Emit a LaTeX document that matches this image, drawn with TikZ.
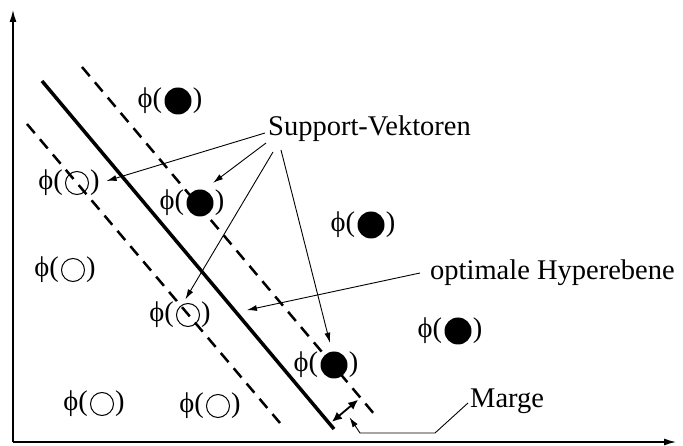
\documentclass[tikz,border=0pt]{standalone}
\usepackage{fontspec}
\setmainfont{Liberation Serif}
\usetikzlibrary{calc, arrows.meta, positioning}

\newcommand{\phipunkt}[3]{%
    \node[#2] (#1) at (#3) {};
    \node[left=2pt of #1, inner sep=0pt] (#1-l) {ϕ(};
    \node[right=1pt of #1, inner sep=0pt] (#1-r) {)};
}

\begin{document}
\begin{tikzpicture}[x=1pt, y=-1pt, font=\fontsize{28.5}{34}\selectfont,
    voll/.style={circle, fill, inner sep=0pt, minimum size=27pt},
    leer/.style={circle, draw, line width=1pt, inner sep=0pt, minimum size=23pt},
    pfeil/.style={-{Latex[length=10pt, width=6pt]}, line width=0.9pt},
    rand/.style={line width=2.5pt, dash pattern=on 12pt off 8pt}]
    \useasboundingbox (0,0) rectangle (683,446);
    \coordinate (O) at (13,442);
    \draw[line width=1.3pt, -{Latex[length=12pt, width=7pt]}] (O) -- (13,10);
    \draw[line width=1.3pt, -{Latex[length=12pt, width=7pt]}] (O) -- (676,442);
    \coordinate (ha) at (42,81);
    \coordinate (hb) at (334,429);
    \coordinate (da) at (82,67);
    \coordinate (db) at (375,415);
    \coordinate (la) at (27,124);
    \coordinate (lb) at (280,423);
    \draw[rand] (da) -- (db);
    \draw[rand] (la) -- (lb);
    \draw[line width=3.5pt] (ha) -- (hb);
    \phipunkt{b1}{voll}{178,101}
    \phipunkt{w1}{leer}{77,183}
    \phipunkt{b2}{voll}{200,203}
    \phipunkt{b3}{voll}{371,225}
    \phipunkt{w2}{leer}{73,270}
    \phipunkt{w3}{leer}{188,315}
    \phipunkt{b4}{voll}{458,331}
    \phipunkt{b5}{voll}{334,365}
    \phipunkt{w4}{leer}{102,404}
    \phipunkt{w5}{leer}{218,406}
    \node[anchor=west, inner sep=0pt] (sv) at (268,129) {Support-Vektoren};
    \node[anchor=west, inner sep=0pt] (hyp) at (430,273) {optimale Hyperebene};
    \node[anchor=west, inner sep=0pt] (marge) at (470,401) {Marge};
    \draw[pfeil, shorten >=7pt] ([shift={(-3,4)}]sv.west) -- (w1-r.east);
    \draw[pfeil, shorten >=11.7pt] ([shift={(-2,14)}]sv.west) -- (b2.74);
    \draw[pfeil, shorten >=6pt] ([shift={(5,23)}]sv.west) -- (w3.118);
    \draw[pfeil, shorten >=9pt] ([shift={(13,21)}]sv.west) -- (b5.98);
    \coordinate (hz) at ($(ha)!0.665!(hb)$);
    \draw[pfeil, shorten >=11pt] ([xshift=-10pt]hyp.west) -- (hz);
    \coordinate (ma) at ($(ha)!0.985!(hb)$);
    \coordinate (mb) at ($(da)!(ma)!(db)$);
    \draw[line width=1.8pt, {Latex[length=10pt, width=9pt]}-{Latex[length=10pt, width=9pt]}, shorten <=3pt, shorten >=3pt] (ma) -- (mb);
    \draw[pfeil, shorten >=8pt] ([shift={(-2,2)}]marge.west) -- ++(-33,30) -- ++(-75,0) -- ($(ma)!0.5!(mb)$);
\end{tikzpicture}
\end{document}
